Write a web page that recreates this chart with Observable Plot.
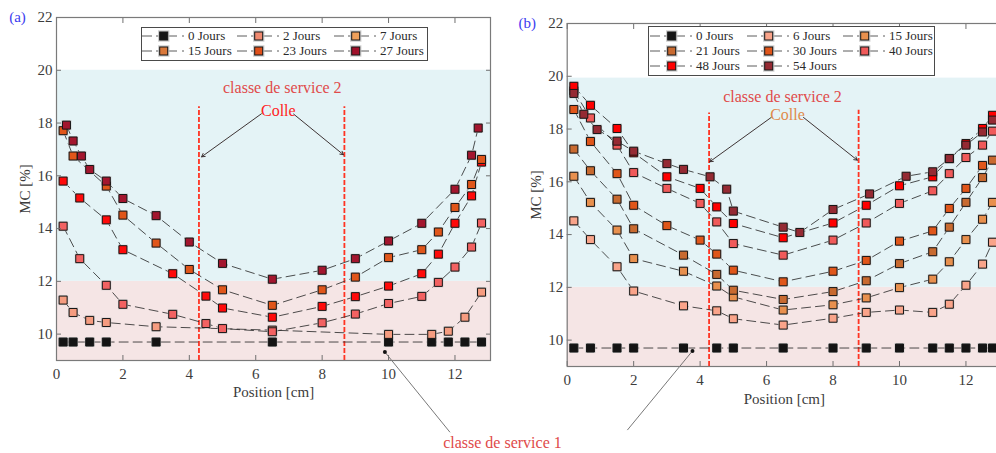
<!DOCTYPE html>
<html>
<head>
<meta charset="utf-8">
<script src="https://cdn.jsdelivr.net/npm/d3@7"></script>
<script src="https://cdn.jsdelivr.net/npm/@observablehq/plot@0.6"></script>
<style>
  html, body { margin: 0; padding: 0; background: #fff; overflow: hidden; }
  #wrap { position: relative; width: 996px; height: 453px; overflow: hidden; background: #fff;
          font-family: "Liberation Serif", "DejaVu Serif", serif; }
  .panel { position: absolute; top: 0; left: 0; height: 453px; }
  .legend { position: absolute; background: #fff; border: 1px solid #4a4a4a; box-sizing: border-box; }
  .entry { position: absolute; height: 16px; display: flex; align-items: center; white-space: nowrap;
           font-family: "Liberation Serif", "DejaVu Serif", serif; font-size: 13px; color: #2a2a2a; }
  .entry svg { flex: none; display: block; }
</style>
</head>
<body>
<div id="wrap"></div>
<script>
// ---------------- shared axes ----------------
const xTicks = [0, 2, 4, 6, 8, 10, 12];
const yTicks = [10, 12, 14, 16, 18, 20, 22];
const xDomain = [0, 13.07];
const yDomain = [9, 22];

// service-class bands (MC %): [low band, high band]
const bandsA = [[9, 12], [12, 20]];
const bandsB = [[9, 12], [12, 19.93]];
const bandColors = ["#f5e5e5", "#e4f3f6"];

// ---------------- panel (a) ----------------
const namesA = ["0 Jours", "2 Jours", "7 Jours", "15 Jours", "23 Jours", "27 Jours"];
const colorsA = ["#141414", "#f59c80", "#f26262", "#ff0a0a", "#e0561a", "#a3162e"];
const legendColorsA = ["#141414", "#f08a70", "#f0a05a", "#d9783a", "#e0501a", "#a0102a"];

const a0x = [0.2, 0.5, 1, 1.5, 3, 6.5, 10, 11.3, 11.8, 12.3, 12.8];
const a0y = [9.7, 9.7, 9.7, 9.7, 9.7, 9.7, 9.7, 9.7, 9.7, 9.7, 9.7];
const a2x = [0.2, 0.5, 1, 1.5, 3, 6.5, 10, 11.3, 11.8, 12.3, 12.8];
const a2y = [11.29, 10.82, 10.52, 10.44, 10.28, 10.15, 9.99, 9.99, 10.11, 10.64, 11.59];
const a7x = [0.2, 0.7, 1.5, 2, 3.5, 4.5, 5, 6.5, 8, 9, 10, 11, 11.5, 12, 12.5, 12.8];
const a7y = [14.09, 12.86, 11.85, 11.13, 10.75, 10.4, 10.21, 10.09, 10.43, 10.76, 11.16, 11.43, 11.96, 12.54, 13.3, 14.21];
const a15x = [0.2, 0.7, 1.5, 2, 3.5, 4.5, 5, 6.5, 8, 9, 10, 11, 11.5, 12, 12.5, 12.8];
const a15y = [15.8, 15.16, 14.33, 13.2, 12.29, 11.44, 10.99, 10.64, 11.05, 11.42, 11.82, 12.29, 13.03, 14.2, 15.24, 16.52];
const a23x = [0.2, 0.5, 1.5, 2, 3, 4, 5, 6.5, 8, 9, 10, 11, 11.5, 12, 12.5, 12.8];
const a23y = [17.71, 16.75, 15.61, 14.51, 13.45, 12.45, 11.68, 11.09, 11.68, 12.16, 12.9, 13.2, 13.87, 14.8, 15.67, 16.62];
const a27x = [0.3, 0.5, 0.75, 1, 1.5, 2, 3, 4, 5, 6.5, 8, 9, 10, 11, 12, 12.5, 12.7];
const a27y = [17.92, 17.32, 16.75, 16.24, 15.8, 15.14, 14.49, 13.49, 12.68, 12.08, 12.42, 12.86, 13.53, 14.2, 15.49, 16.78, 17.81];

const colleXA = [4.29, 8.67];
const colleTopA = [18.62, 18.62];
const arrowsA = {x1: [6.17, 7.14], y1: [18.35, 18.34], x2: [4.37, 8.64], y2: [16.72, 16.8]};
const textPosA = {service2: [6.8, 19.34], colle: [6.68, 18.47]};
const service1LinkA = {from: [9.89, 9.32], to: [11.85, 6.28]};
const service1TextA = [13.43, 5.86];

// ---------------- panel (b) ----------------
const namesB = ["0 Jours", "6 Jours", "15 Jours", "21 Jours", "30 Jours", "40 Jours", "48 Jours", "54 Jours"];
const colorsB = ["#141414", "#f9a48a", "#e8904e", "#c86a30", "#e0561a", "#f05a5a", "#ff0000", "#952a33"];

const b0x = [0.2, 0.7, 1.5, 2, 3.5, 4.5, 5, 6.5, 8, 9, 10, 11, 11.5, 12, 12.5, 12.8];
const b0y = [9.7, 9.7, 9.7, 9.7, 9.7, 9.7, 9.7, 9.7, 9.7, 9.7, 9.7, 9.7, 9.7, 9.7, 9.7, 9.7];
const b6x = [0.2, 0.7, 1.5, 2, 3.5, 4.5, 5, 6.5, 8, 9, 10, 11, 11.5, 12, 12.5, 12.8];
const b6y = [14.52, 13.81, 12.78, 11.86, 11.3, 11.11, 10.81, 10.57, 10.83, 11.05, 11.14, 11.05, 11.36, 12.08, 12.88, 13.71];
const b15x = [0.2, 0.7, 1.5, 2, 3.5, 4.5, 5, 6.5, 8, 9, 10, 11, 11.5, 12, 12.5, 12.8];
const b15y = [16.21, 15.22, 14.17, 13.09, 12.61, 12.05, 11.64, 11.14, 11.34, 11.6, 11.99, 12.31, 12.97, 13.81, 14.58, 15.22];
const b21x = [0.2, 0.7, 1.5, 2, 3.5, 4.5, 5, 6.5, 8, 9, 10, 11, 11.5, 12, 12.5, 12.8];
const b21y = [17.24, 16.42, 15.34, 14.22, 13.22, 12.49, 11.89, 11.54, 11.84, 12.25, 12.9, 13.35, 14.28, 15.22, 16.16, 16.82];
const b30x = [0.2, 0.7, 1.5, 2, 3, 4, 4.5, 5, 6.5, 8, 9, 10, 11, 11.5, 12, 12.5];
const b30y = [18.74, 17.53, 16.31, 15.11, 14.34, 13.79, 13.26, 12.65, 12.21, 12.61, 13.02, 13.75, 14.14, 14.99, 15.75, 16.62];
const b40x = [0.2, 0.7, 1.5, 2, 3, 4, 4.5, 5, 6.5, 8, 9, 10, 11, 11.5, 12, 12.5, 12.8];
const b40y = [19.45, 18.42, 17.39, 16.35, 15.75, 15.18, 14.48, 13.66, 13.22, 13.79, 14.44, 15.18, 15.66, 16.31, 16.92, 17.39, 17.92];
const b48x = [0.2, 0.7, 1.5, 2, 3, 4, 4.5, 5, 6.5, 8, 9, 10, 11, 11.5, 12, 12.5, 12.8];
const b48y = [19.62, 18.9, 18.02, 17.1, 16.19, 15.75, 15.05, 14.42, 13.88, 14.44, 15.11, 15.85, 16.19, 16.88, 17.45, 18.02, 18.52];
const b54x = [0.2, 0.5, 0.9, 1.5, 2, 3, 3.5, 4.3, 4.8, 5, 6.5, 7, 8, 9.1, 10.2, 11, 11.5, 12, 12.5, 12.8];
const b54y = [19.35, 18.56, 17.98, 17.54, 17.16, 16.69, 16.47, 16.19, 15.72, 14.89, 14.28, 14.08, 14.95, 15.54, 16.21, 16.38, 16.88, 17.39, 17.89, 18.34];

const colleXB = [4.27, 8.77];
const colleTopB = [18.61, 18.71];
const arrowsB = {x1: [6.14, 7.11], y1: [18.44, 18.44], x2: [4.29, 8.73], y2: [16.76, 16.82]};
const textPosB = {service2: [6.48, 19.22], colle: [6.63, 18.53]};
const service1LinkB = {from: [3.77, 9.59], to: [1.81, 6.59]};

// ---------------- builders ----------------
const FONT = '"Liberation Serif", "DejaVu Serif", serif';

function rows(names, xs, ys) {
  const out = [];
  names.forEach((name, i) => xs[i].forEach((x, j) => out.push({series: name, x, mc: ys[i][j]})));
  return out;
}

function panel(o) {
  const data = rows(o.names, o.xs, o.ys);
  const idx = [0, 1];
  const marks = [
    Plot.rect([0], {x1: xDomain[0], x2: xDomain[1], y1: o.bands[0][0], y2: o.bands[0][1], fill: bandColors[0]}),
    Plot.rect([0], {x1: xDomain[0], x2: xDomain[1], y1: o.bands[1][0], y2: o.bands[1][1], fill: bandColors[1]}),
    Plot.ruleX(o.colleX, {x: d => d, y1: yDomain[0], y2: (d, i) => o.colleTop[i],
      stroke: "#ff3322", strokeWidth: 1.8, strokeDasharray: "5,2"}),
    Plot.line(data, {x: "x", y: "mc", z: "series", stroke: "#2e2e2e", strokeWidth: 0.85, strokeDasharray: "9,5"}),
    Plot.dot(data, {x: "x", y: "mc", symbol: "square", r: 5.6, fill: "#c4c4c4", fillOpacity: 0.85}),
    Plot.dot(data, {x: "x", y: "mc", symbol: "square", r: 4.5, fill: "series", stroke: "#161616", strokeWidth: 1}),
    Plot.arrow(idx, {x1: i => o.arrows.x1[i], y1: i => o.arrows.y1[i], x2: i => o.arrows.x2[i], y2: i => o.arrows.y2[i],
      stroke: "#2b1e1e", strokeWidth: 0.9, headLength: 6}),
    Plot.text(["classe de service 2"], {x: o.textPos.service2[0], y: o.textPos.service2[1], text: d => d,
      fill: "#e04a4a", fontSize: 16}),
    Plot.text(["Colle"], {x: o.textPos.colle[0], y: o.textPos.colle[1], text: d => d, fill: o.colleColor, fontSize: 16}),
    Plot.link([0], {x1: o.s1.from[0], y1: o.s1.from[1], x2: o.s1.to[0], y2: o.s1.to[1], stroke: "#555", strokeWidth: 0.8}),
    Plot.dot([0], {x: o.s1.from[0], y: o.s1.from[1], r: 2, fill: "#111"}),
    Plot.axisX(xTicks, {anchor: "bottom", tickSize: -5, tickPadding: 13, stroke: "#707070", fill: "#3c3c3c",
      fontSize: 15, label: null}),
    Plot.axisX(xTicks, {anchor: "top", tickSize: -5, tickFormat: () => "", stroke: "#707070", label: null}),
    Plot.axisY(yTicks, {anchor: "left", tickSize: -5, tickPadding: 9, stroke: "#707070", fill: "#3c3c3c",
      fontSize: 15, label: null}),
    Plot.axisY(yTicks, {anchor: "right", tickSize: -5, tickFormat: () => "", stroke: "#707070", label: null}),
    Plot.frame({stroke: "#7a7a7a", strokeWidth: 1.2}),
    Plot.text(["Position [cm]"], {frameAnchor: "bottom", dy: o.xLabelDy, text: d => d, fill: "#3c3c3c",
      fontSize: 15, textAnchor: "middle", lineAnchor: "middle"}),
    Plot.text(["MC [%]"], {frameAnchor: "left", dx: -31, rotate: -90, text: d => d, fill: "#3c3c3c",
      fontSize: 15, textAnchor: "middle", lineAnchor: "middle"}),
    Plot.text([o.tag], {frameAnchor: "top-left", dx: o.tagDx, text: d => d, fill: "#3c3cf0",
      fontSize: 15, textAnchor: "middle", lineAnchor: "middle"})
  ];
  if (o.s1Text) {
    marks.push(Plot.text(["classe de service 1"], {x: o.s1Text[0], y: o.s1Text[1], text: d => d,
      fill: "#e04a4a", fontSize: 16}));
  }
  return Plot.plot({
    width: o.width, height: 453,
    marginLeft: o.ml, marginRight: o.mr, marginTop: o.mt, marginBottom: o.mb,
    style: {fontFamily: FONT, fontSize: "15px", background: "transparent", overflow: "visible", color: "#3c3c3c"},
    x: {domain: xDomain},
    y: {domain: yDomain},
    color: {domain: o.names, range: o.colors},
    marks
  });
}

function addLegend(box, names, colors) {
  const lg = document.createElement("div");
  lg.className = "legend";
  Object.assign(lg.style, {left: box.left + "px", top: box.top + "px", width: box.w + "px", height: box.h + "px"});
  names.forEach((name, i) => {
    const r = Math.floor(i / 3), c = i % 3;
    const e = document.createElement("div");
    e.className = "entry";
    e.style.left = box.colX[c] + "px";
    e.style.top = (box.rowY[r] - 8) + "px";
    e.innerHTML =
      `<svg width="46" height="16" viewBox="0 0 46 16">` +
      `<g stroke="#4a4a4a" stroke-width="0.9"><line x1="0" y1="8" x2="10" y2="8"/>` +
      `<line x1="14" y1="8" x2="35" y2="8"/><line x1="40" y1="8" x2="42" y2="8"/></g>` +
      `<rect x="16" y="2.3" width="11.4" height="11.4" fill="#c4c4c4" fill-opacity="0.85"/>` +
      `<rect x="17.7" y="4" width="8" height="8" fill="${colors[i]}" stroke="#161616" stroke-width="1"/>` +
      `</svg><span>${name}</span>`;
    lg.appendChild(e);
  });
  document.getElementById("wrap").appendChild(lg);
}

// ---------------- render ----------------
// Both panel SVGs span the full page width and are stacked (transparent
// backgrounds), so the shared "classe de service 1" annotation never
// straddles an SVG edge.
const wrap = document.getElementById("wrap");

const svgB = panel({
  names: namesB, colors: colorsB,
  xs: [b0x, b6x, b15x, b21x, b30x, b40x, b48x, b54x],
  ys: [b0y, b6y, b15y, b21y, b30y, b40y, b48y, b54y],
  bands: bandsB, colleX: colleXB, colleTop: colleTopB, arrows: arrowsB, textPos: textPosB,
  colleColor: "#e08a4a", s1: service1LinkB, s1Text: null,
  width: 1001, ml: 566.7, mr: 0, mt: 23, mb: 87, xLabelDy: 33, tag: "(b)", tagDx: -40
});
const divB = document.createElement("div");
divB.className = "panel"; divB.style.width = "1001px";
divB.appendChild(svgB); wrap.appendChild(divB);

const svgA = panel({
  names: namesA, colors: colorsA,
  xs: [a0x, a2x, a7x, a15x, a23x, a27x],
  ys: [a0y, a2y, a7y, a15y, a23y, a27y],
  bands: bandsA, colleX: colleXA, colleTop: colleTopA, arrows: arrowsA, textPos: textPosA,
  colleColor: "#ff2222", s1: service1LinkA, s1Text: service1TextA,
  width: 996, ml: 56, mr: 506, mt: 17, mb: 93, xLabelDy: 32, tag: "(a)", tagDx: -39
});
const divA = document.createElement("div");
divA.className = "panel"; divA.style.width = "996px";
divA.appendChild(svgA); wrap.appendChild(divA);

addLegend({left: 141, top: 27, w: 287, h: 34, colX: [0, 95, 192], rowY: [8, 23]}, namesA, legendColorsA);
addLegend({left: 648, top: 26, w: 287, h: 50, colX: [1, 98, 194], rowY: [9, 24, 38.7]}, namesB, colorsB);
</script>
</body>
</html>
